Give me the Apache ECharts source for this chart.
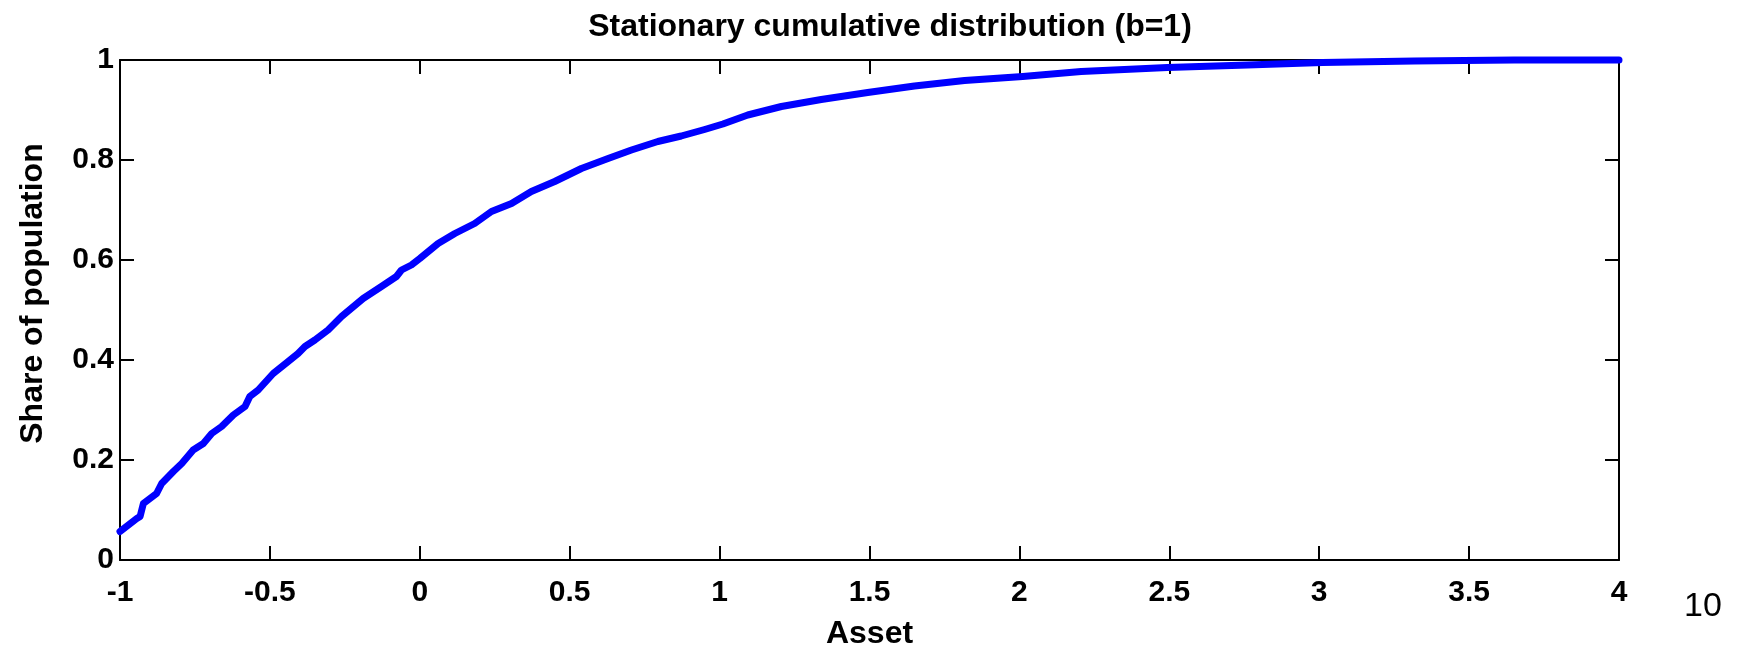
<!DOCTYPE html>
<html>
<head>
<meta charset="utf-8">
<title>Stationary cumulative distribution</title>
<script src="https://cdn.jsdelivr.net/npm/echarts@6/dist/echarts.min.js"></script>
<style>
  html, body { margin: 0; padding: 0; background: #ffffff; }
  #chart { width: 1751px; height: 650px; }
</style>
</head>
<body>
<div id="chart"></div>
<script>
// Asset grid points and the cumulative share of the population at each point
const assetGrid = [-1, -0.944, -0.933, -0.922, -0.878, -0.861, -0.822, -0.794, -0.756, -0.722,
  -0.694, -0.661, -0.622, -0.583, -0.567, -0.539, -0.489, -0.439, -0.406, -0.383,
  -0.35, -0.306, -0.261, -0.189, -0.128, -0.078, -0.061, -0.028, 0, 0.061,
  0.117, 0.183, 0.239, 0.306, 0.372, 0.45, 0.539, 0.628, 0.706, 0.794,
  0.872, 0.95, 1.011, 1.094, 1.206, 1.339, 1.494, 1.65, 1.817, 2.011,
  2.206, 2.494, 2.761, 3.011, 3.317, 3.65, 4];
const cumulativeShare = [0.057, 0.083, 0.087, 0.113, 0.133, 0.153, 0.177, 0.193, 0.22, 0.233,
  0.253, 0.267, 0.29, 0.307, 0.327, 0.34, 0.373, 0.397, 0.413, 0.427,
  0.44, 0.46, 0.487, 0.523, 0.547, 0.567, 0.58, 0.59, 0.603, 0.633,
  0.653, 0.673, 0.697, 0.713, 0.737, 0.757, 0.783, 0.803, 0.82, 0.837,
  0.848, 0.861, 0.872, 0.89, 0.907, 0.921, 0.935, 0.948, 0.959, 0.967,
  0.977, 0.985, 0.99, 0.995, 0.998, 1.0, 1.0];

// Tick values along each axis
const xTicks = [-1, -0.5, 0, 0.5, 1, 1.5, 2, 2.5, 3, 3.5, 4];
const yTicks = [0, 0.2, 0.4, 0.6, 0.8, 1];

const chartTitle = 'Stationary cumulative distribution (b=1)';
const xName = 'Asset';
const yName = 'Share of population';
const exponentText = '10';

const FONT = '"Liberation Sans", Arial, Helvetica, sans-serif';
const seriesData = assetGrid.map((a, i) => [a, cumulativeShare[i]]);

const tickStyle = { show: true, inside: true, length: 14, lineStyle: { color: '#000', width: 2 } };
const lineStyle = { show: true, onZero: false, lineStyle: { color: '#000', width: 2 } };

function fmt(v) { return String(v); }

const chart = echarts.init(document.getElementById('chart'), null, { renderer: 'canvas' });
chart.setOption({
  backgroundColor: '#ffffff',
  animation: false,
  title: {
    text: chartTitle,
    left: 885,
    textAlign: 'center',
    top: 6,
    textStyle: { fontFamily: FONT, fontWeight: 'bold', fontSize: 32, color: '#000' }
  },
  grid: { left: 120, right: 132, top: 60, bottom: 90, containLabel: false, outerBoundsMode: 'none' },
  xAxis: [
    {
      type: 'value', position: 'bottom',
      min: xTicks[0], max: xTicks[xTicks.length - 1], interval: 0.5,
      axisLine: lineStyle, axisTick: tickStyle, splitLine: { show: false },
      axisLabel: { fontFamily: FONT, fontWeight: 'bold', fontSize: 30, color: '#000', margin: 18, formatter: fmt },
      name: xName, nameLocation: 'middle', nameGap: 58,
      nameTextStyle: { fontFamily: FONT, fontWeight: 'bold', fontSize: 32, color: '#000' }
    },
    {
      type: 'value', position: 'top',
      min: xTicks[0], max: xTicks[xTicks.length - 1], interval: 0.5,
      axisLine: lineStyle, axisTick: tickStyle, axisLabel: { show: false }, splitLine: { show: false }
    }
  ],
  yAxis: [
    {
      type: 'value', position: 'left',
      min: yTicks[0], max: yTicks[yTicks.length - 1], interval: 0.2,
      axisLine: lineStyle, axisTick: tickStyle, splitLine: { show: false },
      axisLabel: { fontFamily: FONT, fontWeight: 'bold', fontSize: 30, color: '#000', margin: 6, formatter: fmt },
      name: yName, nameLocation: 'middle', nameGap: 71, nameRotate: 90,
      nameTextStyle: { fontFamily: FONT, fontWeight: 'bold', fontSize: 32, color: '#000', padding: [0, 0, 0, 33] }
    },
    {
      type: 'value', position: 'right',
      min: yTicks[0], max: yTicks[yTicks.length - 1], interval: 0.2,
      axisLine: lineStyle, axisTick: tickStyle, axisLabel: { show: false }, splitLine: { show: false }
    }
  ],
  graphic: [
    {
      type: 'text', left: 1684, top: 590,
      style: { text: exponentText, fontFamily: FONT, fontSize: 34, fill: '#000' }
    }
  ],
  series: [
    {
      type: 'line', xAxisIndex: 0, yAxisIndex: 0,
      data: seriesData, showSymbol: false, symbol: 'none',
      clip: false,
      lineStyle: { color: '#0000ff', width: 7, join: 'round', cap: 'round' }
    }
  ]
});
</script>
</body>
</html>
